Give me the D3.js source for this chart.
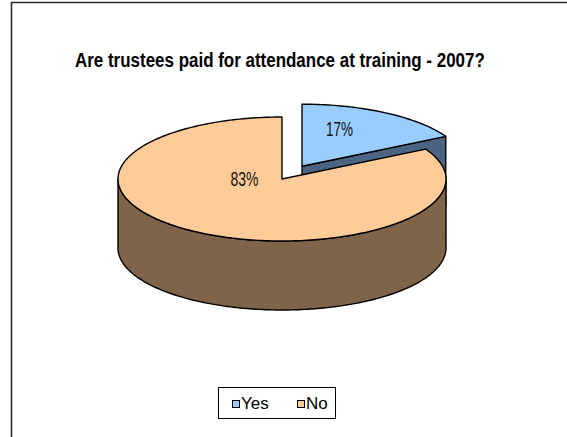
<!DOCTYPE html>
<html>
<head>
<meta charset="utf-8">
<script src="https://cdn.jsdelivr.net/npm/d3@7"></script>
<style>
  body { margin: 0; background: #fff; }
  svg { display: block; font-family: "Liberation Sans", Arial, sans-serif; }
</style>
</head>
<body>
<svg width="567" height="437"></svg>
<script>
// chart data
const categories = ['Yes', 'No'];
const values = [17, 83];
const labels = ['17%', '83%'];
const topColors = ['#99ccff', '#ffcc99'];
const sideColors = ['#4a6482', '#7f6449'];
const title = 'Are trustees paid for attendance at training - 2007?';

const svg = d3.select('svg');

// squeeze a text horizontally to a given width (the original uses a narrow face)
function squeeze(sel, w, x, y, anchor) {
  sel.each(function () {
    const t = d3.select(this);
    const nat = this.getComputedTextLength();
    const k = Math.min(1, w / nat);
    t.attr('x', 0).attr('y', 0).attr('text-anchor', anchor || 'start')
      .attr('transform', `translate(${x},${y}) scale(${k},1)`);
  });
}

// outer frame (cut off on the right and bottom like the original)
svg.append('path')
  .attr('d', 'M11.5,440 V2.5 H570')
  .attr('fill', 'none').attr('stroke', '#2b2b2b').attr('stroke-width', 1.6);

svg.append('text')
  .attr('font-size', 21).attr('font-weight', 'bold')
  .text(title)
  .call(squeeze, 410, 75, 67);

// 3d pie geometry
const cx = 282, cy = 179, rx = 164, ry = 62, depth = 69;
const explode = [0.24, 0];

const pie = d3.pie().sort(null).startAngle(0).endAngle(2 * Math.PI);
const arcs = pie(values);

// ellipse projection of a pie angle
const px = d3.scaleLinear().domain([-1, 1]).range([-rx, rx]);
const py = d3.scaleLinear().domain([-1, 1]).range([ry, -ry]);
const pt = (a, ox, oy, dz) => [ox + px(Math.sin(a)), oy + py(Math.cos(a)) + (dz || 0)];

function rimPoints(a0, a1, ox, oy, dz) {
  const n = Math.max(2, Math.ceil((a1 - a0) / 0.02));
  return d3.range(n + 1).map(i => pt(a0 + (a1 - a0) * i / n, ox, oy, dz));
}

arcs.forEach(d => {
  const mid = (d.startAngle + d.endAngle) / 2;
  const e = explode[d.index];
  d.ox = cx + e * px(Math.sin(mid));
  d.oy = cy + e * py(Math.cos(mid));
  d.mid = mid;
});

const line = d3.line();
const g = svg.append('g').attr('stroke', '#000').attr('stroke-width', 1.4).attr('stroke-linejoin', 'round');

// back to front: exploded slice first
arcs.forEach(d => {
  // end wall (visible when facing the viewer)
  if (d.endAngle < Math.PI && d.endAngle > 0) {
    const p = pt(d.endAngle, d.ox, d.oy);
    const wall = [[d.ox, d.oy], p, [p[0], p[1] + depth], [d.ox, d.oy + depth]];
    g.append('path').attr('d', line(wall) + 'Z').attr('fill', sideColors[d.index]);
  }
  // outer curved side in front half
  const s0 = Math.max(d.startAngle, Math.PI / 2);
  const s1 = Math.min(d.endAngle, 3 * Math.PI / 2);
  if (s1 > s0) {
    const top = rimPoints(s0, s1, d.ox, d.oy);
    const bot = rimPoints(s0, s1, d.ox, d.oy, depth).reverse();
    g.append('path').attr('d', line(top.concat(bot)) + 'Z').attr('fill', sideColors[d.index]);
  }
  // top face
  const face = [[d.ox, d.oy]].concat(rimPoints(d.startAngle, d.endAngle, d.ox, d.oy));
  g.append('path').attr('d', line(face) + 'Z').attr('fill', topColors[d.index]);
});

// percent labels
const labelWidth = [27, 28];
svg.selectAll('text.pct').data(arcs).enter().append('text')
  .attr('class', 'pct')
  .attr('font-size', 20)
  .attr('fill', '#111')
  .text((d, i) => labels[i])
  .each(function (d, i) {
    d3.select(this).call(squeeze, labelWidth[i],
      d.ox + 0.45 * px(Math.sin(d.mid)),
      d.oy + 0.7 * py(Math.max(Math.cos(d.mid), 0)) + 7, 'middle');
  });

// legend
const lg = svg.append('g').attr('transform', 'translate(218,387)');
lg.append('rect').attr('x', 0.5).attr('y', 0.5).attr('width', 117).attr('height', 31)
  .attr('fill', '#fff').attr('stroke', '#000').attr('stroke-width', 1);
const legX = d3.scalePoint().domain(categories).range([14, 79]);
const legW = [31, 22];
const items = lg.selectAll('g.item').data(categories).enter().append('g')
  .attr('class', 'item')
  .attr('transform', d => `translate(${legX(d)},0)`);
items.append('rect').attr('x', 0.5).attr('y', 13.5).attr('width', 7).attr('height', 7)
  .attr('fill', (d, i) => topColors[i]).attr('stroke', '#000').attr('stroke-width', 1);
items.append('text')
  .attr('font-size', 17)
  .text(d => d)
  .each(function (d, i) { d3.select(this).call(squeeze, legW[i], 9, 21.5); });
</script>
</body>
</html>
